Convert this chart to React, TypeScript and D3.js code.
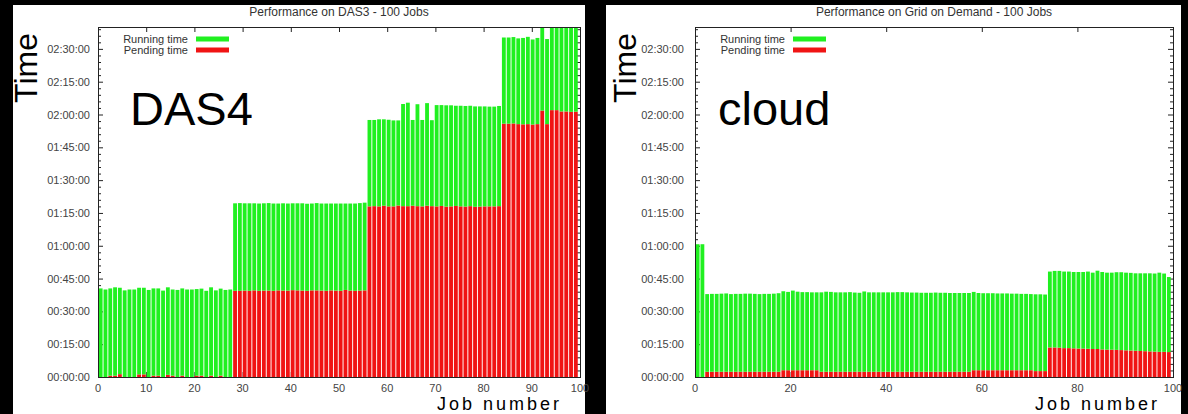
import React, { useEffect } from 'react';
import * as d3 from 'd3';

// ---------------- data (minutes) ----------------
const jobs = d3.range(1, 101);

const das4Pending = [
  0, 0, 0.6, 0.6, 1.3, 0, 0, 0, 1.2, 1.2, 0, 0.6, 0.6, 0, 1.0, 0.6, 0, 0.6, 0, 0, 0.6, 0.6, 0, 0.6, 0, 0.6, 0, 0,
  39.4, 39.4, 39.5, 39.4, 39.6, 39.4, 39.5, 39.5, 39.4, 39.6, 39.5, 39.5, 39.7, 39.6, 39.5, 39.4, 39.6, 39.6, 39.5, 39.4, 39.6, 39.5, 39.4, 39.8, 39.5, 39.4, 39.5, 39.6,
  78.0, 78.1, 78.0, 78.3, 78.0, 78.0, 78.4, 78.1, 78.1, 78.3, 78.1, 78.0, 78.3, 78.1, 78.0, 78.2, 77.9, 78.0, 78.2, 78.0, 77.9, 78.1, 77.8, 77.9, 78.0, 78.0, 78.0, 78.1,
  115.8, 115.8, 115.9, 115.6, 115.5, 115.6, 115.4, 115.6, 121.8, 115.6, 122.0, 122.0, 121.4, 121.4, 121.2, 121.3,
];

const das4Running = [
  40.5, 40.0, 39.9, 40.4, 39.5, 39.6, 40.0, 40.0, 39.6, 39.6, 39.8, 39.9, 39.9, 39.5, 40.0, 39.4, 39.8, 39.9, 40.0, 40.0, 39.6, 39.8, 39.4, 40.4, 39.6, 39.8, 39.8, 40.0,
  40.0, 40.1, 39.9, 40.0, 39.8, 39.9, 39.9, 40.0, 39.9, 39.7, 39.9, 39.8, 39.7, 39.8, 39.9, 39.8, 39.7, 39.9, 39.8, 39.9, 39.7, 39.8, 39.9, 39.5, 39.8, 39.9, 40.0, 40.1,
  39.5, 39.4, 39.8, 39.5, 39.6, 39.3, 38.9, 46.7, 47.3, 39.2, 46.6, 39.5, 46.9, 39.3, 46.3, 46.1, 46.3, 46.2, 45.8, 46.0, 46.0, 45.9, 45.9, 45.8, 45.7, 45.6, 45.6, 45.8,
  39.4, 39.4, 39.5, 39.2, 39.5, 39.9, 38.9, 39.4, 40.0, 38.9, 40.5, 40.2, 40.8, 40.3, 40.6, 40.5,
];

const cloudPending = [
  0, 0,
  2.4, 2.4, 2.4, 2.4, 2.4, 2.4, 2.4, 2.4, 2.4, 2.4, 2.4, 2.4, 2.4, 2.4, 2.4, 2.4,
  3.1, 3.1, 3.1, 3.1, 3.1, 3.1, 3.1, 3.1,
  2.4, 2.4, 2.4, 2.4, 2.4, 2.4, 2.4, 2.4, 2.4, 2.4, 2.4, 2.4, 2.4, 2.4, 2.4, 2.4,
  2.4, 2.4, 2.4, 2.4, 2.4, 2.4, 2.4, 2.4, 2.4, 2.4, 2.4, 2.4, 2.4, 2.4, 2.4, 2.4,
  3.1, 3.1, 3.1, 3.1, 3.1, 3.1, 3.1, 3.1, 3.1, 3.1, 3.1, 3.1, 3.1,
  2.7, 2.7, 2.7,
  13.5, 13.5, 13.4, 13.2, 13.2, 13.1, 13.0, 13.0, 12.9, 12.8, 12.8, 12.6, 12.5, 12.5, 12.4, 12.3, 12.2, 12.1, 12.0, 11.9, 11.8, 11.7, 11.6, 11.5, 11.5, 11.4,
];

const cloudRunning = [
  60.7, 60.7,
  35.5, 35.6, 35.6, 35.7, 35.8, 35.5, 35.6, 35.6, 35.7, 35.7, 35.6, 35.5, 35.6, 35.6, 35.7, 35.9,
  36.1, 35.8, 36.4, 35.9, 35.7, 35.7, 35.6, 35.6,
  36.3, 36.6, 36.5, 36.3, 36.3, 36.3, 36.4, 36.2, 36.1, 36.7, 36.3, 36.3, 36.3, 36.3,
  36.3, 36.3, 36.4, 36.4, 36.3, 36.2, 36.2, 36.1, 36.1, 36.1, 36.2, 36.1, 36.1, 36.0, 36.0, 36.0, 36.0, 36.0,
  35.8,
  35.3, 35.2, 35.2, 35.2, 35.1, 35.1, 35.1, 35.0, 35.0, 34.9, 34.9, 34.8,
  35.1, 35.1, 35.0,
  34.7, 35.0, 35.1, 35.0, 35.0, 34.9, 35.0, 35.0, 35.3, 34.9, 35.8, 35.4, 35.2, 35.2, 35.5, 35.6, 35.5, 35.5, 35.4, 35.5, 35.6, 35.7, 35.7, 36.2, 35.8, 34.3,
];

const yTickMinutes = d3.range(0, 151, 15);
const yMinorMinutes = d3.range(0, 160, 3).filter((m) => m % 15 !== 0);
const das4XTicks = d3.range(0, 101, 10);
const cloudXTicks = d3.range(0, 101, 20);
const legendLabels = ['Running time', 'Pending time'];

// ---------------- style ----------------
const GREEN = '#20f020';
const RED = '#f01414';
const FONT = '"Liberation Sans", Arial, Helvetica, sans-serif';
const Y_TOP = 27;
const Y_BOTTOM = 377;

const pad2 = (n: number) => String(n).padStart(2, '0');
const fmtTime = (m: number) => `${pad2(Math.floor(m / 60))}:${pad2(m % 60)}:00`;

interface PanelProps {
  id: string;
  bgX0: number;
  bgX1: number;
  x0: number;
  x1: number;
  title: string;
  big: string;
  bigX: number;
  timeX: number;
  jobLabelX: number;
  yLabelGap: number;
  xTicks: number[];
  pending: number[];
  running: number[];
}

function Panel(p: PanelProps) {
  const x = d3.scaleLinear().domain([0, 100]).range([p.x0, p.x1]);
  const y = d3.scaleLinear().domain([0, 160]).range([Y_BOTTOM, Y_TOP]);
  const band = d3.scaleBand<number>().domain(jobs).range([p.x0 + 0.5, p.x1 - 2]).paddingInner(0.2).paddingOuter(0.05);
  const stack = d3.stack<number>().keys(['pending', 'running']).value((i, key) => (key === 'pending' ? p.pending[i] : p.running[i]));
  const series = stack(d3.range(jobs.length));
  const colors = [RED, GREEN];
  const clipId = `clip-${p.id}`;
  const cx = (p.x0 + p.x1) / 2;

  return (
    <g>
      <rect x={p.bgX0} y={5} width={p.bgX1 - p.bgX0} height={409} fill="#fff" />
      <defs>
        <clipPath id={clipId}>
          <rect x={p.x0} y={Y_TOP} width={p.x1 - p.x0} height={Y_BOTTOM - Y_TOP} />
        </clipPath>
      </defs>
      <text x={cx} y={16} textAnchor="middle" fontFamily={FONT} fontSize={12} fill="#333">
        {p.title}
      </text>
      {/* ticks */}
      <g stroke="#222" strokeWidth={1}>
        {yTickMinutes.map((m) => (
          <g key={`ym${m}`}>
            <line x1={p.x0} x2={p.x0 + 5} y1={y(m) + 0.5} y2={y(m) + 0.5} />
            <line x1={p.x1} x2={p.x1 - 5} y1={y(m) + 0.5} y2={y(m) + 0.5} />
          </g>
        ))}
        {yMinorMinutes.map((m) => (
          <g key={`yn${m}`}>
            <line x1={p.x0} x2={p.x0 + 3} y1={y(m) + 0.5} y2={y(m) + 0.5} />
            <line x1={p.x1} x2={p.x1 - 3} y1={y(m) + 0.5} y2={y(m) + 0.5} />
          </g>
        ))}
        {p.xTicks.map((t) => (
          <g key={`xt${t}`}>
            <line x1={x(t) + 0.5} x2={x(t) + 0.5} y1={Y_BOTTOM} y2={Y_BOTTOM - 5} />
            <line x1={x(t) + 0.5} x2={x(t) + 0.5} y1={Y_TOP} y2={Y_TOP + 5} />
          </g>
        ))}
      </g>
      {/* bars */}
      <g clipPath={`url(#${clipId})`}>
        {series.map((s, si) => (
          <g key={si} fill={colors[si]}>
            {s.map((d, i) => (
              <rect
                key={i}
                x={band(jobs[i])!}
                width={band.bandwidth()}
                y={y(d[1])}
                height={Math.max(0, y(d[0]) - y(d[1]))}
              />
            ))}
          </g>
        ))}
      </g>
      {/* frame */}
      <rect x={p.x0 + 0.5} y={Y_TOP + 0.5} width={p.x1 - p.x0} height={Y_BOTTOM - Y_TOP} fill="none" stroke="#222" strokeWidth={1} />
      {/* tick labels */}
      <g fontFamily={FONT} fontSize={11} fill="#444">
        {yTickMinutes.map((m) => (
          <text key={`yl${m}`} x={p.x0 - p.yLabelGap} y={y(m) + 4} textAnchor="end">
            {fmtTime(m)}
          </text>
        ))}
        {p.xTicks.map((t) => (
          <text key={`xl${t}`} x={x(t)} y={392} textAnchor="middle">
            {t}
          </text>
        ))}
      </g>
      {/* legend */}
      <g fontFamily={FONT} fontSize={11} fill="#333">
        {legendLabels.map((l, i) => (
          <g key={l}>
            <text x={p.x0 + 90} y={43 + i * 11} textAnchor="end">
              {l}
            </text>
            <rect x={p.x0 + 98} y={36.5 + i * 11} width={33} height={5} fill={i === 0 ? GREEN : RED} />
          </g>
        ))}
      </g>
      {/* labels */}
      <text
        transform={`translate(${p.timeX},68) rotate(-90)`}
        textAnchor="middle"
        fontFamily={FONT}
        fontSize={32}
        fill="#000"
      >
        Time
      </text>
      <text x={p.bigX} y={125} fontFamily={FONT} fontSize={47} fill="#000">
        {p.big}
      </text>
      <text x={p.jobLabelX} y={410} fontFamily={FONT} fontSize={18} letterSpacing={3} fill="#000">
        Job number
      </text>
    </g>
  );
}

export default function App() {
  useEffect(() => {
    document.body.style.margin = '0';
    document.body.style.overflow = 'hidden';
  }, []);
  return (
    <svg width={1188} height={414} style={{ position: 'absolute', left: 0, top: 0, display: 'block' }}>
      <rect x={0} y={0} width={1188} height={414} fill="#000" />
      <Panel
        id="das4"
        bgX0={13}
        bgX1={585}
        x0={98}
        x1={580}
        title="Performance on DAS3 - 100 Jobs"
        big="DAS4"
        bigX={130}
        timeX={37}
        jobLabelX={437}
        yLabelGap={8}
        xTicks={das4XTicks}
        pending={das4Pending}
        running={das4Running}
      />
      <Panel
        id="cloud"
        bgX0={606}
        bgX1={1181}
        x0={695}
        x1={1173}
        title="Performance on Grid on Demand - 100 Jobs"
        big="cloud"
        bigX={718}
        timeX={636}
        jobLabelX={1035}
        yLabelGap={11}
        xTicks={cloudXTicks}
        pending={cloudPending}
        running={cloudRunning}
      />
    </svg>
  );
}
